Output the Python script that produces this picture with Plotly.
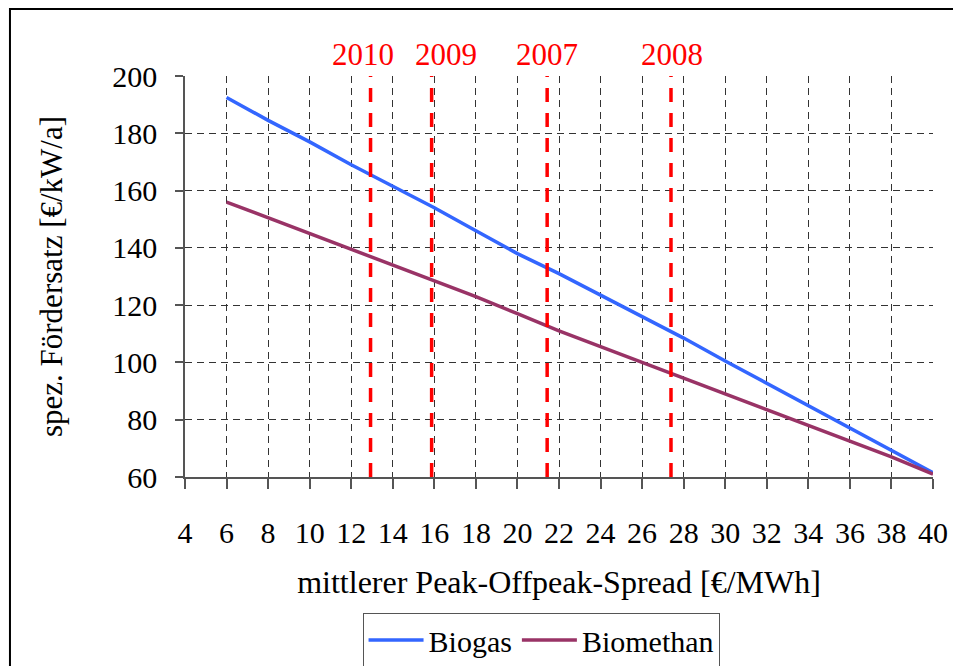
import plotly.graph_objects as go

# ---- data ----
spread = [6, 8, 10, 12, 14, 16, 18, 20, 22, 24, 26, 28, 30, 32, 34, 36, 38, 40]
biogas = [192.5, 184.5, 177.0, 169.0, 161.5, 154.0, 146.0, 138.0, 131.0, 123.5,
          116.0, 108.5, 100.5, 92.7, 85.0, 77.0, 69.3, 61.5]
biomethan = [156.0, 150.5, 145.0, 139.5, 134.0, 128.5, 123.0, 117.0, 111.0, 105.5,
             100.0, 94.5, 89.0, 83.5, 78.0, 72.5, 67.0, 61.0]
year_labels = ["2010", "2009", "2007", "2008"]
year_spread = [12.93, 15.87, 21.43, 27.39]
label_shift = [-8, 14, 0, 1]

x_ticks = list(range(4, 41, 2))
y_ticks = list(range(60, 201, 20))

FONT = "Liberation Serif, Times New Roman, serif"
FS = 30

fig = go.Figure()
fig.add_trace(go.Scatter(x=spread, y=biogas, mode="lines", name="Biogas",
                         line=dict(color="#3366ff", width=3.5)))
fig.add_trace(go.Scatter(x=spread, y=biomethan, mode="lines", name="Biomethan",
                         line=dict(color="#993366", width=3.5)))

shapes = []
annotations = []
for lab, xv, sh in zip(year_labels, year_spread, label_shift):
    shapes.append(dict(type="line", xref="x", yref="paper", x0=xv, x1=xv, y0=0, y1=1,
                       line=dict(color="#ff0000", width=3.5, dash="14px,11px"), layer="above"))
    annotations.append(dict(x=xv, y=1.0, xref="x", yref="paper", text=lab, showarrow=False,
                            xanchor="center", yanchor="bottom", xshift=sh, yshift=2,
                            font=dict(color="#ff0000", size=31, family=FONT)))

# outer frame
shapes.append(dict(type="rect", xref="paper", yref="paper", x0=-0.234, x1=1.5, y0=-1.0, y1=1.167,
                   line=dict(color="#000000", width=2), fillcolor="rgba(0,0,0,0)", layer="below"))

fig.update_layout(
    width=953, height=658,
    margin=dict(l=177, r=28, t=68, b=189, autoexpand=False),
    paper_bgcolor="white", plot_bgcolor="white",
    font=dict(family=FONT, size=FS, color="#000000"),
    shapes=shapes, annotations=annotations,
    showlegend=True,
    legend=dict(orientation="h", x=0.476, xanchor="center", y=-0.339, yanchor="top",
                bordercolor="#555555", borderwidth=1, bgcolor="white",
                font=dict(family=FONT, size=FS), itemwidth=55, tracegroupgap=0),
)
fig.update_xaxes(
    range=[4, 40], tickvals=x_ticks, ticktext=[str(v) for v in x_ticks],
    showgrid=True, gridcolor="#333333", gridwidth=1, griddash="7px,5px",
    showline=True, linecolor="#555555", linewidth=1.5,
    ticks="outside", ticklen=10, tickcolor="#555555", tickwidth=1.5,
    ticklabelstandoff=18, zeroline=False,
    title=dict(text="mittlerer Peak-Offpeak-Spread [€/MWh]", standoff=23,
               font=dict(family=FONT, size=32)),
)
fig.update_yaxes(
    range=[60, 200], tickvals=y_ticks,
    showgrid=True, gridcolor="#333333", gridwidth=1, griddash="7px,5px",
    showline=True, linecolor="#555555", linewidth=1.5,
    ticks="outside", ticklen=8, tickcolor="#555555", tickwidth=1.5,
    ticklabelstandoff=12, zeroline=False,
    title=dict(text="spez. Fördersatz [€/kW/a]", standoff=40,
               font=dict(family=FONT, size=31)),
)

fig.write_html("out.html")
